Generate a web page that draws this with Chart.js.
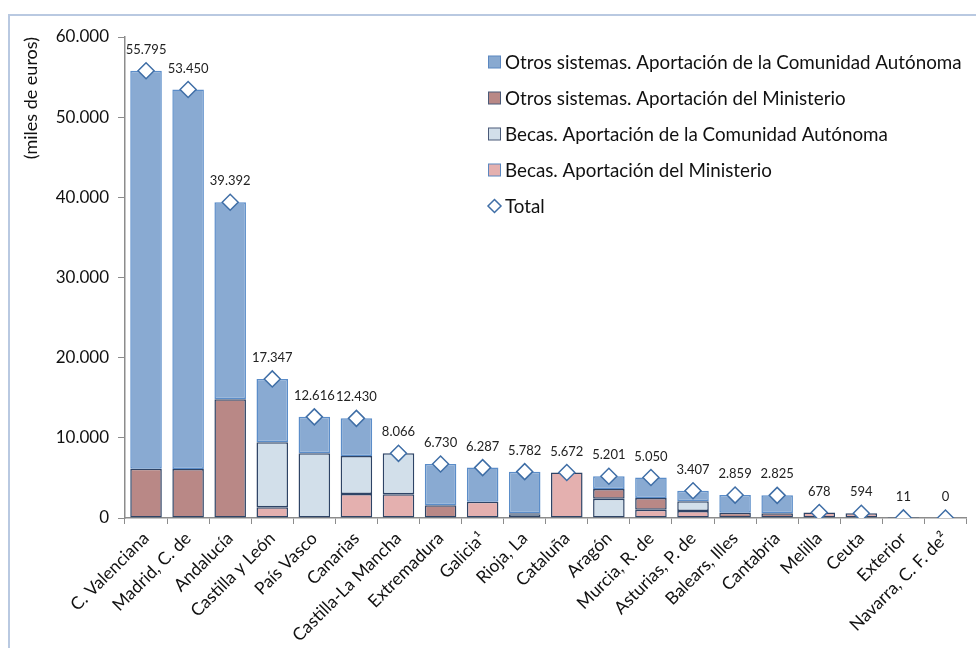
<!DOCTYPE html>
<html>
<head>
<meta charset="utf-8">
<script src="https://cdn.jsdelivr.net/npm/chart.js@4.4.1/dist/chart.umd.min.js"></script>
<style>
html,body{margin:0;padding:0;background:#fff;}
#wrap{position:relative;width:976px;height:648px;}
canvas{display:block;}
</style>
</head>
<body>
<div id="wrap"><canvas id="c" width="976" height="648"></canvas></div>
<script>
const categories = ["C. Valenciana","Madrid, C. de","Andalucía","Castilla y León","País Vasco","Canarias","Castilla-La Mancha","Extremadura","Galicia¹","Rioja, La","Cataluña","Aragón","Murcia, R. de","Asturias, P. de","Balears, Illes","Cantabria","Melilla","Ceuta","Exterior","Navarra, C. F. de²"];
const becasMinisterio = [0,0,0,1330,0,3000,2950,0,2030,0,5672,0,1040,870,0,0,678,594,0,0];
const becasCCAA = [0,0,0,8110,8070,4730,5116,0,0,480,0,2410,0,1210,0,0,0,0,0,0];
const otrosMinisterio = [6150,6100,14800,0,0,0,0,1580,0,120,0,1210,1460,0,660,600,0,0,11,0];
const otrosCCAA = [49645,47350,24592,7907,4546,4700,0,5150,4257,5182,0,1581,2550,1327,2199,2225,0,0,0,0];
const totals = [55795,53450,39392,17347,12616,12430,8066,6730,6287,5782,5672,5201,5050,3407,2859,2825,678,594,11,0];
const yTicks = [0,10000,20000,30000,40000,50000,60000];

const FONT = "Lato, 'Open Sans', sans-serif";
function fmt(v){ return String(v).replace(/\B(?=(\d{3})+(?!\d))/g, "."); }

const legendItems = [
  {label:"Otros sistemas. Aportación de la Comunidad Autónoma", fill:"#88A9D0", stroke:"#5B87C0", type:"box"},
  {label:"Otros sistemas. Aportación del Ministerio", fill:"#B98886", stroke:"#4A5A78", type:"box"},
  {label:"Becas. Aportación de la Comunidad Autónoma", fill:"#D2DFEA", stroke:"#4A5A78", type:"box"},
  {label:"Becas. Aportación del Ministerio", fill:"#E4B0AF", stroke:"#5B87C0", type:"box"},
  {label:"Total", fill:"#ffffff", stroke:"#3F6EA6", type:"diamond"}
];

const framePlugin = {
  id:'frame',
  beforeDraw(chart){
    const ctx = chart.ctx;
    ctx.save();
    ctx.fillStyle = '#fff';
    ctx.fillRect(0,0,chart.width,chart.height);
    ctx.strokeStyle = '#B9C9E1';
    ctx.lineWidth = 2;
    ctx.strokeRect(9,15,1000,700);
    ctx.restore();
  }
};

const labelsPlugin = {
  id:'totLabels',
  afterDatasetsDraw(chart){
    const ctx = chart.ctx;
    const meta = chart.getDatasetMeta(4);
    ctx.save();
    ctx.font = "13px " + FONT;
    ctx.fillStyle = '#222';
    ctx.textAlign = 'center';
    ctx.textBaseline = 'alphabetic';
    meta.data.forEach((pt,i)=>{
      ctx.fillText(fmt(totals[i]), pt.x, pt.y - 17);
    });
    ctx.restore();
  }
};

const legendPlugin = {
  id:'customLegend',
  afterDraw(chart){
    const ctx = chart.ctx;
    ctx.save();
    ctx.font = "18.8px " + FONT;
    ctx.textBaseline = 'middle';
    const ys = [62,98,134,170,206];
    legendItems.forEach((it,i)=>{
      const y = ys[i];
      if(it.type==='box'){
        ctx.fillStyle = it.fill;
        ctx.fillRect(488.5,y-6,12,12);
        ctx.strokeStyle = it.stroke;
        ctx.lineWidth = 1;
        ctx.strokeRect(488.5,y-6,12,12);
      } else {
        ctx.fillStyle = '#fff';
        ctx.strokeStyle = it.stroke;
        ctx.lineWidth = 1.5;
        ctx.beginPath();
        ctx.moveTo(494.5,y-6.5);ctx.lineTo(501,y);ctx.lineTo(494.5,y+6.5);ctx.lineTo(488,y);ctx.closePath();
        ctx.fill();ctx.stroke();
      }
      ctx.fillStyle = '#111';
      ctx.textAlign = 'left';
      ctx.fillText(it.label, 505, y+1);
    });
    ctx.restore();
  }
};

const barCommon = {type:'bar', stack:'s', barPercentage:0.75, categoryPercentage:1.0,
  borderWidth:(c)=> (c.raw ? 1.5 : 0), borderSkipped:false};

new Chart(document.getElementById('c'), {
  data:{
    labels: categories,
    datasets:[
      Object.assign({}, barCommon, {label:"Becas. Aportación del Ministerio", data:becasMinisterio, backgroundColor:"#E4B0AF", borderColor:"#2E4466", order:2}),
      Object.assign({}, barCommon, {label:"Becas. Aportación de la Comunidad Autónoma", data:becasCCAA, backgroundColor:"#D2DFEA", borderColor:"#2E4466", order:2}),
      Object.assign({}, barCommon, {label:"Otros sistemas. Aportación del Ministerio", data:otrosMinisterio, backgroundColor:"#B98886", borderColor:"#2E4466", order:2}),
      Object.assign({}, barCommon, {label:"Otros sistemas. Aportación de la Comunidad Autónoma", data:otrosCCAA, backgroundColor:"#89AAD2", borderColor:"#5B8DC9", order:2}),
      {type:'line', label:"Total", data:totals, stack:'t', showLine:false, pointStyle:'rectRot', pointRadius:8, pointHoverRadius:8, pointBackgroundColor:'#fff', pointBorderColor:'#3F6EA6', pointBorderWidth:1.5, order:1}
    ]
  },
  options:{
    responsive:false,
    animation:false,
    events:[],
    layout:{padding:{top:37, left:20, right:0, bottom:0}},
    plugins:{legend:{display:false}, tooltip:{enabled:false}},
    scales:{
      x:{
        stacked:true,
        grid:{display:true, drawOnChartArea:false, offset:true, tickLength:6, color:'#8c8c8c', lineWidth:1},
        border:{display:true, color:'#8c8c8c', width:1.5},
        ticks:{font:{family:FONT, size:17.5}, color:'#111', minRotation:45, maxRotation:45, autoSkip:false, padding:4},
        afterFit(s){ s.height = 130; }
      },
      y:{
        stacked:true,
        min:0, max:60000,
        afterBuildTicks(s){ s.ticks = yTicks.map(v=>({value:v})); },
        grid:{display:true, drawOnChartArea:false, tickLength:7, color:'#8c8c8c', lineWidth:1},
        border:{display:true, color:'#8c8c8c', width:1.5},
        ticks:{font:{family:FONT, size:17}, color:'#111', padding:9, callback:(v)=>fmt(v)},
        title:{display:true, align:'end', text:"(miles de euros)", font:{family:FONT, size:18}, color:'#111', padding:{top:0,bottom:4}},
        afterFit(s){ s.width = 105; }
      }
    }
  },
  plugins:[framePlugin, labelsPlugin, legendPlugin]
});
</script>
</body>
</html>
